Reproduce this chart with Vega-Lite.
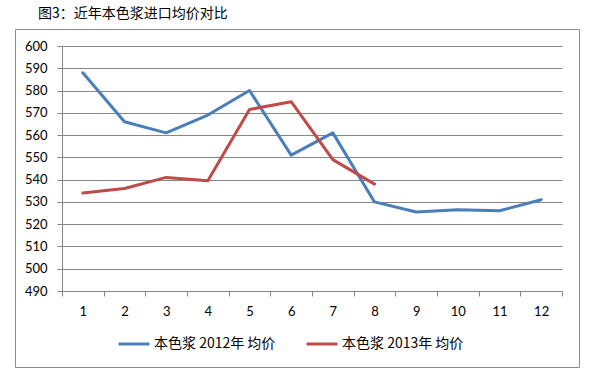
{
  "$schema": "https://vega.github.io/schema/vega-lite/v6.json",
  "autosize": {"type": "none"},
  "padding": {"left": 15, "top": 29, "right": 15, "bottom": 12},
  "width": 564,
  "height": 338,
  "background": "white",
  "config": {
    "view": {"stroke": "#8c8c8c", "strokeWidth": 1},
    "font": "Lato"
  },
  "title": {
    "text": "图3：近年本色浆进口均价对比",
    "anchor": "start",
    "frame": "group",
    "dx": 23,
    "offset": 8,
    "font": "Noto Sans CJK SC",
    "fontSize": 14,
    "fontWeight": "normal",
    "color": "#000000"
  },
  "data": {
    "values": [
      {"month": "1", "series": "本色浆 2012年 均价", "price": 588},
      {"month": "2", "series": "本色浆 2012年 均价", "price": 566},
      {"month": "3", "series": "本色浆 2012年 均价", "price": 561},
      {"month": "4", "series": "本色浆 2012年 均价", "price": 569},
      {"month": "5", "series": "本色浆 2012年 均价", "price": 580},
      {"month": "6", "series": "本色浆 2012年 均价", "price": 551},
      {"month": "7", "series": "本色浆 2012年 均价", "price": 561},
      {"month": "8", "series": "本色浆 2012年 均价", "price": 530},
      {"month": "9", "series": "本色浆 2012年 均价", "price": 525.5},
      {"month": "10", "series": "本色浆 2012年 均价", "price": 526.5},
      {"month": "11", "series": "本色浆 2012年 均价", "price": 526},
      {"month": "12", "series": "本色浆 2012年 均价", "price": 531},
      {"month": "1", "series": "本色浆 2013年 均价", "price": 534},
      {"month": "2", "series": "本色浆 2013年 均价", "price": 536},
      {"month": "3", "series": "本色浆 2013年 均价", "price": 541},
      {"month": "4", "series": "本色浆 2013年 均价", "price": 539.5},
      {"month": "5", "series": "本色浆 2013年 均价", "price": 571.5},
      {"month": "6", "series": "本色浆 2013年 均价", "price": 575},
      {"month": "7", "series": "本色浆 2013年 均价", "price": 549},
      {"month": "8", "series": "本色浆 2013年 均价", "price": 538}
    ]
  },
  "mark": {"type": "line", "strokeWidth": 3, "strokeJoin": "round", "strokeCap": "round"},
  "encoding": {
    "x": {
      "field": "month",
      "type": "ordinal",
      "sort": ["1","2","3","4","5","6","7","8","9","10","11","12"],
      "bandPosition": 0.5,
      "scale": {"type": "band", "range": [47, 547], "paddingInner": 0, "paddingOuter": 0},
      "axis": {
        "title": null,
        "offset": -76,
        "labelAngle": 0,
        "tickBand": "extent",
        "tickSize": 5,
        "labelPadding": 9,
        "labelFont": "Lato",
        "labelFontSize": 13,
        "labelColor": "#000000",
        "domainColor": "#868686",
        "tickColor": "#868686",
        "grid": false
      }
    },
    "y": {
      "field": "price",
      "type": "quantitative",
      "scale": {"domain": [490, 600], "range": [262, 17], "nice": false, "zero": false},
      "axis": {
        "title": null,
        "offset": -47,
        "values": [490, 500, 510, 520, 530, 540, 550, 560, 570, 580, 590, 600],
        "tickSize": 5,
        "labelPadding": 10,
        "labelFont": "Lato",
        "labelFontSize": 13,
        "labelColor": "#000000",
        "domainColor": "#868686",
        "tickColor": "#868686",
        "grid": true,
        "gridColor": "#868686",
        "gridWidth": 1
      }
    },
    "color": {
      "field": "series",
      "type": "nominal",
      "scale": {
        "domain": ["本色浆 2012年 均价", "本色浆 2013年 均价"],
        "range": ["#4a7ebb", "#be4b48"]
      },
      "legend": {
        "title": null,
        "orient": "none",
        "legendX": 102,
        "legendY": 298,
        "direction": "horizontal",
        "padding": 0,
        "symbolType": "stroke",
        "symbolSize": 960,
        "symbolStrokeWidth": 3,
        "labelFont": "Noto Sans CJK SC",
        "labelFontSize": 14,
        "labelColor": "#000000",
        "labelOffset": 3,
        "columnPadding": 24
      }
    }
  }
}
